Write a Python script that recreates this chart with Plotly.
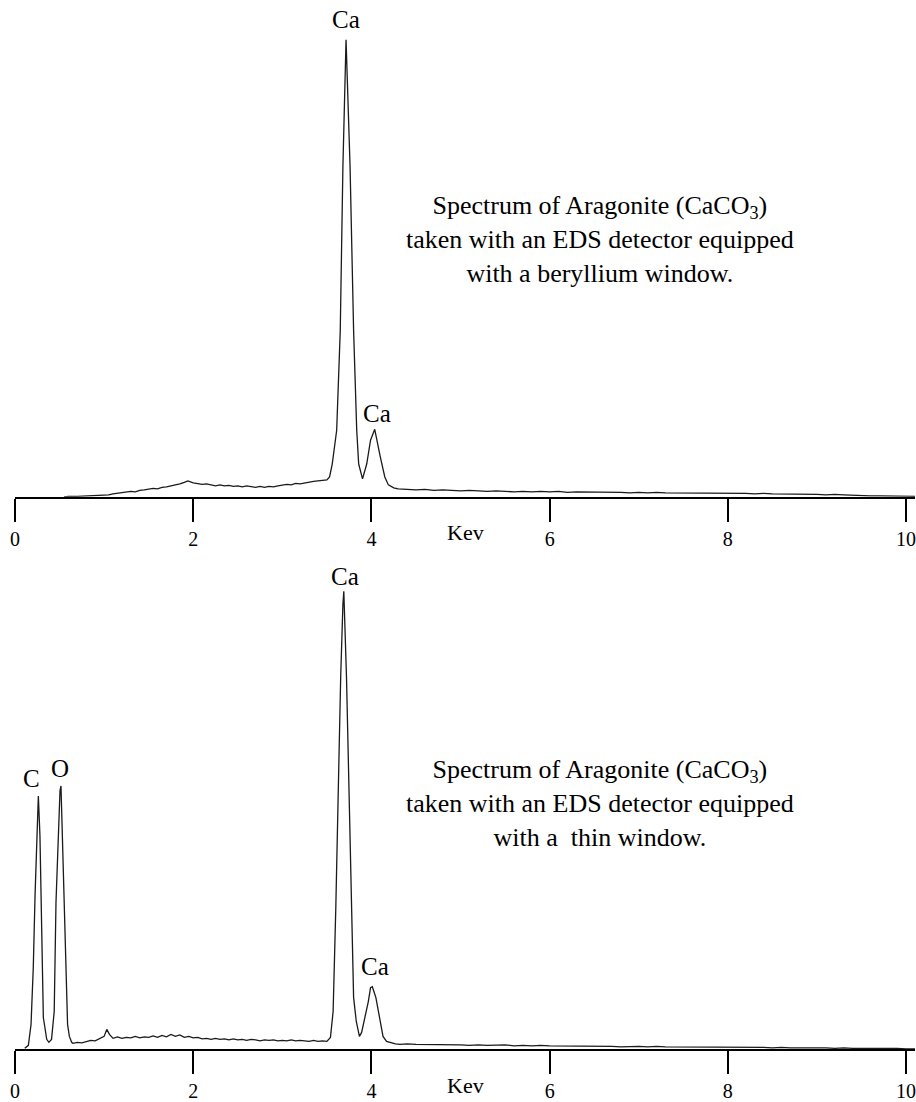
import plotly.graph_objects as go

# ---------------- data (relative counts) ----------------
# Beryllium-window spectrum
E_BE = [0.55, 0.6, 0.7, 0.8, 0.9, 1.0, 1.05, 1.1, 1.15, 1.2, 1.25, 1.3, 1.35, 1.4, 1.45,
        1.5, 1.55, 1.6, 1.65, 1.7, 1.75, 1.8, 1.85, 1.9, 1.94, 2.0, 2.05, 2.1, 2.15, 2.2,
        2.25, 2.3, 2.35, 2.4, 2.45, 2.5, 2.55, 2.6, 2.65, 2.7, 2.75, 2.8, 2.85, 2.9, 2.95,
        3.0, 3.05, 3.1, 3.15, 3.2, 3.25, 3.3, 3.35, 3.4, 3.45, 3.5, 3.53, 3.56, 3.61, 3.65,
        3.68, 3.715, 3.76, 3.80, 3.835, 3.857, 3.90, 3.947, 3.99, 4.037, 4.10, 4.15, 4.19,
        4.25, 4.3]
I_BE = [0, 0.5, 0.5, 1, 1, 2, 2, 3, 3.5, 4, 4.5, 5.5, 5, 6.5, 7,
        7.5, 8.5, 8, 9.5, 10, 11, 11.5, 13, 14.5, 16, 14, 13, 12.5, 13, 12,
        11, 12, 11, 11.5, 10.5, 11, 10, 11, 10.5, 9.5, 10.5, 9.5, 10.5, 10, 11,
        11.5, 12.5, 12, 13.5, 13, 14, 15, 15.5, 16, 16.5, 17, 20, 33, 67, 167,
        333, 460, 333, 167, 67, 33, 18, 33, 57, 68, 40, 20, 12,
        9, 8]

TAIL_E = [4.4, 4.5, 4.6, 4.7, 4.8, 4.9, 5.0, 5.1, 5.2, 5.3, 5.4, 5.5, 5.6, 5.7, 5.8, 5.9,
          6.0, 6.1, 6.2, 6.3, 6.4, 6.5, 6.6, 6.7, 6.8, 6.9, 7.0, 7.1, 7.2, 7.3, 7.4, 7.5,
          7.6, 7.7, 7.8, 7.9, 8.0, 8.1, 8.2, 8.3, 8.4, 8.5, 8.6, 8.7, 8.8, 8.9, 9.0, 9.1,
          9.2, 9.3, 9.4, 9.5, 9.6, 9.7, 9.8, 9.9, 10.0, 10.1]
TAIL_BE = [7.5, 7, 7.5, 6.5, 7, 6.5, 6, 6.5, 6, 5.5, 6, 5.5, 5, 5.5, 5, 5.5,
           5, 5.5, 4.5, 5, 5, 4.5, 5, 4.5, 4.5, 4, 4.5, 4, 4.5, 4, 4, 3.5,
           4, 4, 3.5, 4, 3.5, 4, 3.5, 3, 3.5, 3, 3, 2.5, 3, 2.5, 2.5, 2,
           2.5, 2, 1.5, 1.5, 1, 1, 1, 0.5, 0.5, 0.5]

# Thin-window spectrum
E_THIN = [0.11, 0.15, 0.18, 0.205, 0.225, 0.25, 0.262, 0.28, 0.30, 0.318, 0.356, 0.38,
          0.41, 0.44, 0.46, 0.486, 0.505, 0.516, 0.542, 0.572, 0.59, 0.61, 0.636, 0.65,
          0.7, 0.75, 0.8, 0.85, 0.9, 0.95, 1.0, 1.03, 1.06, 1.1, 1.15, 1.2, 1.25, 1.3,
          1.35, 1.4, 1.45, 1.5, 1.55, 1.6, 1.65, 1.7, 1.75, 1.8, 1.85, 1.9, 1.95, 2.0,
          2.05, 2.1, 2.15, 2.2, 2.25, 2.3, 2.35, 2.4, 2.45, 2.5, 2.55, 2.6, 2.65, 2.7,
          2.75, 2.8, 2.85, 2.9, 2.95, 3.0, 3.05, 3.1, 3.15, 3.2, 3.25, 3.3, 3.35, 3.4,
          3.45, 3.5, 3.54, 3.57, 3.60, 3.63, 3.655, 3.68, 3.69, 3.72, 3.75, 3.78, 3.80,
          3.83, 3.865, 3.89, 3.93, 3.965, 3.99, 4.01, 4.05, 4.08, 4.11, 4.13, 4.17, 4.22,
          4.27, 4.32]
I_THIN = [1, 4, 25, 82, 155, 235, 255, 215, 115, 32, 10, 7,
          10, 38, 148, 215, 260, 265, 182, 82, 25, 13, 7, 6,
          7, 6.5, 8, 9, 8.5, 11, 13, 20, 15, 11, 12.5, 11, 12, 11.5,
          13, 11.5, 12.5, 12, 13.5, 12, 14, 12.5, 15, 13, 14.5, 12, 13, 11.5,
          12, 10.5, 11, 10, 11, 10, 10.5, 9.5, 10.5, 9.5, 10, 9, 10, 9.5,
          8.5, 9.5, 9, 9.5, 8.5, 9, 8.5, 9.5, 8.5, 9, 8.5, 8, 9, 8,
          8.5, 8, 12, 38, 142, 275, 375, 448, 461, 375, 242, 108, 52,
          28, 13, 17, 32, 48, 62, 63, 52, 38, 22, 13, 8, 6.5,
          5.5, 5]
TAIL_THIN = [5.5, 5, 5, 4.5, 5, 4.5, 4.5, 4, 4.5, 4, 4, 4.5, 3.5, 4, 3.5, 4,
             3.5, 3.5, 3, 3.5, 3, 3.5, 3, 3, 2.5, 3, 3, 2.5, 3, 2.5, 2.5, 2.5,
             2, 2.5, 2, 2.5, 2, 2, 2.5, 2, 2, 1.5, 2, 1.5, 1.5, 2, 1.5, 1.5,
             1, 1.5, 1, 1, 1.5, 1, 1, 1, 0.5, 0.5]

TICKS = [0, 2, 4, 6, 8, 10]
TICK_TEXT = ["0", "2", "4", "6", "8", "10"]

TEXT_BE = ("Spectrum of Aragonite (CaCO<sub>3</sub>)<br>"
           "taken with an EDS detector equipped<br>with a beryllium window.")
TEXT_THIN = ("Spectrum of Aragonite (CaCO<sub>3</sub>)<br>"
             "taken with an EDS detector equipped<br>with a&nbsp; thin window.")

# ---------------- figure ----------------
FONT = "Liberation Serif"
LINE = dict(color="#1a1a1a", width=1.3)

fig = go.Figure()
fig.add_trace(go.Scatter(x=E_BE + TAIL_E, y=I_BE + TAIL_BE, mode="lines", line=LINE,
                         xaxis="x", yaxis="y", showlegend=False, hoverinfo="skip"))
fig.add_trace(go.Scatter(x=E_THIN + TAIL_E, y=I_THIN + TAIL_THIN, mode="lines", line=LINE,
                         xaxis="x2", yaxis="y2", showlegend=False, hoverinfo="skip"))

W, H = 916, 1102
xax = dict(range=[0, 10.1], domain=[0, 1], showgrid=False, zeroline=False,
           showline=True, linecolor="black", linewidth=2,
           ticks="outside", ticklen=23, tickwidth=2, tickcolor="black",
           tickvals=TICKS, ticktext=TICK_TEXT, ticklabeloverflow="allow",
           tickfont=dict(family=FONT, size=20, color="black"), fixedrange=True)
yax = dict(range=[0, 500], visible=False, showgrid=False, zeroline=False, fixedrange=True)

fig.update_layout(
    width=W, height=H,
    margin=dict(l=15, r=0, t=0, b=0),
    plot_bgcolor="white", paper_bgcolor="white",
    xaxis=dict(xax, anchor="y"),
    yaxis=dict(yax, domain=[1 - 500 / H, 1], anchor="x"),
    xaxis2=dict(xax, anchor="y2"),
    yaxis2=dict(yax, domain=[1 - 1056 / H, 1 - 556 / H], anchor="x2"),
    font=dict(family=FONT, color="black"),
)

def ann(text, x, y, xref, yref, size):
    fig.add_annotation(text=text, x=x, y=y, xref=xref, yref=yref, showarrow=False,
                       xanchor="center", yanchor="middle", align="center",
                       font=dict(family=FONT, size=size, color="black"))

# top panel labels
ann("Ca", 3.72, 480, "x", "y", 25)
ann("Ca", 4.06, 84, "x", "y", 25)
ann(TEXT_BE, 6.56, 259, "x", "y", 26)
ann("Kev", 5.06, 1 - 536 / H, "x", "paper", 22)
# bottom panel labels
ann("Ca", 3.70, 476, "x2", "y2", 25)
ann("Ca", 4.04, 83, "x2", "y2", 25)
ann("C", 0.18, 273, "x2", "y2", 25)
ann("O", 0.50, 283, "x2", "y2", 25)
ann(TEXT_THIN, 6.56, 247, "x2", "y2", 26)
ann("Kev", 5.06, 1 - 1092 / H, "x2", "paper", 22)

fig.write_html("out.html")
